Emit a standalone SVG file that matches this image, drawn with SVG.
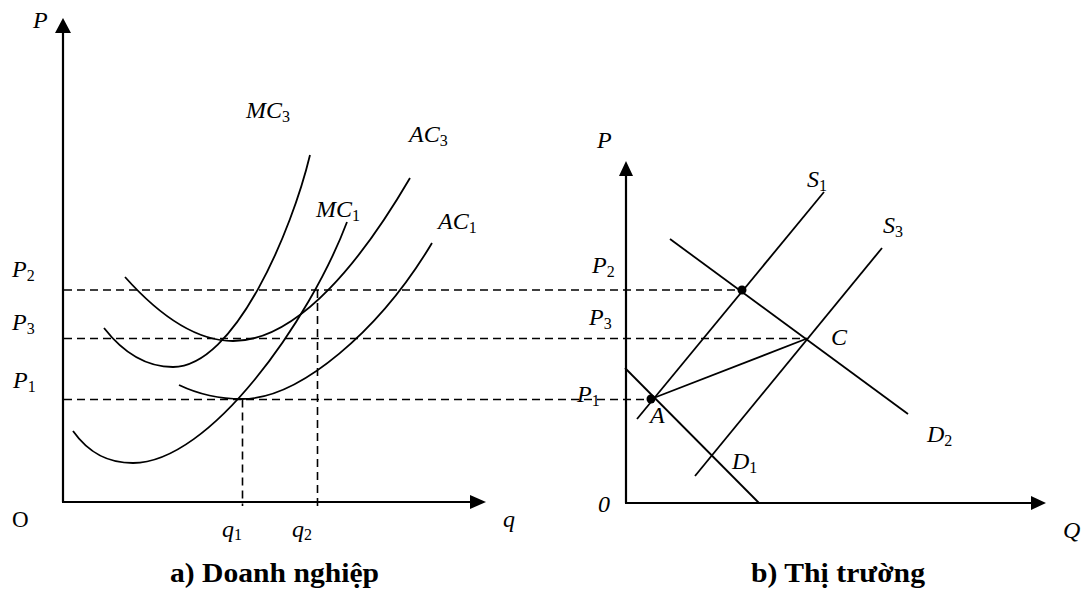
<svg xmlns="http://www.w3.org/2000/svg" width="1086" height="592" viewBox="0 0 1086 592">
<style>
.ax{stroke:#000;stroke-width:2.2;fill:none}
.cv{stroke:#000;stroke-width:1.8;fill:none}
.ds{stroke:#000;stroke-width:1.6;fill:none;stroke-dasharray:8,5}
.lbl{font-family:"Liberation Serif","Times New Roman",serif;font-style:italic;font-size:24px;fill:#000}
.up{font-family:"Liberation Serif","Times New Roman",serif;font-size:23px;fill:#000}
.sub{font-size:16px;font-style:normal}
.cap{font-family:"Liberation Serif","Times New Roman",serif;font-weight:bold;font-size:27px;fill:#000}
</style>
<rect width="1086" height="592" fill="#fff"/>
<g id="connectors">
<line class="ax" x1="63" y1="502" x2="63" y2="31"/>
<polygon points="63,18 55,33 71,33" fill="#000"/>
<line class="ax" x1="62" y1="502" x2="472" y2="502"/>
<polygon points="486,502 470,495 470,509" fill="#000"/>
<line class="ax" x1="626" y1="503" x2="626" y2="174"/>
<polygon points="626,161 619,176 633,176" fill="#000"/>
<line class="ax" x1="625" y1="503" x2="1032" y2="503"/>
<polygon points="1046,503 1031,496 1031,510" fill="#000"/>
<line class="ds" x1="64" y1="290" x2="742" y2="290"/>
<line class="ds" x1="64" y1="338.5" x2="807" y2="338.5"/>
<line class="ds" x1="64" y1="399.5" x2="651" y2="399.5"/>
<line class="ds" x1="242.5" y1="399.5" x2="242.5" y2="506"/>
<line class="ds" x1="317.5" y1="290" x2="317.5" y2="506"/>
<path id="AC3" class="cv" d="M125,277 C150,305 190,341 233,341 C300,341 365,255 410,178"/>
<path id="MC3" class="cv" d="M104,328 C125,355 148,367 173,367 C235,367 292,230 310,155"/>
<path id="MC1" class="cv" d="M73,431 C90,455 110,463 133,463 C210,463 310,320 347,222"/>
<path id="AC1" class="cv" d="M179,385 C200,395 220,399 242,399 C300,399 380,330 432,243"/>
<line id="S1" class="cv" x1="637" y1="419" x2="824" y2="192"/>
<line id="S3" class="cv" x1="695" y1="476" x2="882" y2="248"/>
<line id="D2" class="cv" x1="670" y1="239" x2="908" y2="414"/>
<line id="D1" class="cv" x1="625" y1="368" x2="759" y2="503"/>
<line id="AC" class="cv" x1="651" y1="399" x2="807" y2="338.5"/>
<circle cx="742" cy="290" r="4.5" fill="#000"/>
<circle cx="651" cy="399" r="4.5" fill="#000"/>
</g>
<g id="labels-left">
<text class="lbl" x="33" y="28">P</text>
<text class="lbl" x="246" y="118">MC<tspan class="sub" dy="4">3</tspan></text>
<text class="lbl" x="409" y="142">AC<tspan class="sub" dy="4">3</tspan></text>
<text class="lbl" x="316" y="217">MC<tspan class="sub" dy="4">1</tspan></text>
<text class="lbl" x="438" y="229">AC<tspan class="sub" dy="4">1</tspan></text>
<text class="lbl" x="12" y="277">P<tspan class="sub" dy="4">2</tspan></text>
<text class="lbl" x="12" y="330">P<tspan class="sub" dy="4">3</tspan></text>
<text class="lbl" x="13" y="388">P<tspan class="sub" dy="4">1</tspan></text>
<text class="up" x="12" y="527">O</text>
<text class="lbl" x="222" y="537">q<tspan class="sub" dy="3">1</tspan></text>
<text class="lbl" x="292" y="537">q<tspan class="sub" dy="3">2</tspan></text>
<text class="lbl" x="503" y="527">q</text>
<text class="cap" x="170" y="582" textLength="209" lengthAdjust="spacingAndGlyphs">a) Doanh nghiệp</text>
</g>
<g id="labels-right">
<text class="lbl" x="597" y="148">P</text>
<text class="lbl" x="807" y="187">S<tspan class="sub" dy="4">1</tspan></text>
<text class="lbl" x="883" y="233">S<tspan class="sub" dy="4">3</tspan></text>
<text class="lbl" x="592" y="273">P<tspan class="sub" dy="4">2</tspan></text>
<text class="lbl" x="589" y="325">P<tspan class="sub" dy="4">3</tspan></text>
<text class="lbl" x="831" y="345">C</text>
<text class="lbl" x="577" y="402">P<tspan class="sub" dy="4">1</tspan></text>
<text class="lbl" x="650" y="423">A</text>
<text class="lbl" x="927" y="442">D<tspan class="sub" dy="4">2</tspan></text>
<text class="lbl" x="732" y="469">D<tspan class="sub" dy="4">1</tspan></text>
<text class="lbl" x="598" y="512">0</text>
<text class="lbl" x="1063" y="538">Q</text>
<text class="cap" x="751" y="582" textLength="174" lengthAdjust="spacingAndGlyphs">b) Thị trường</text>
</g>
</svg>
